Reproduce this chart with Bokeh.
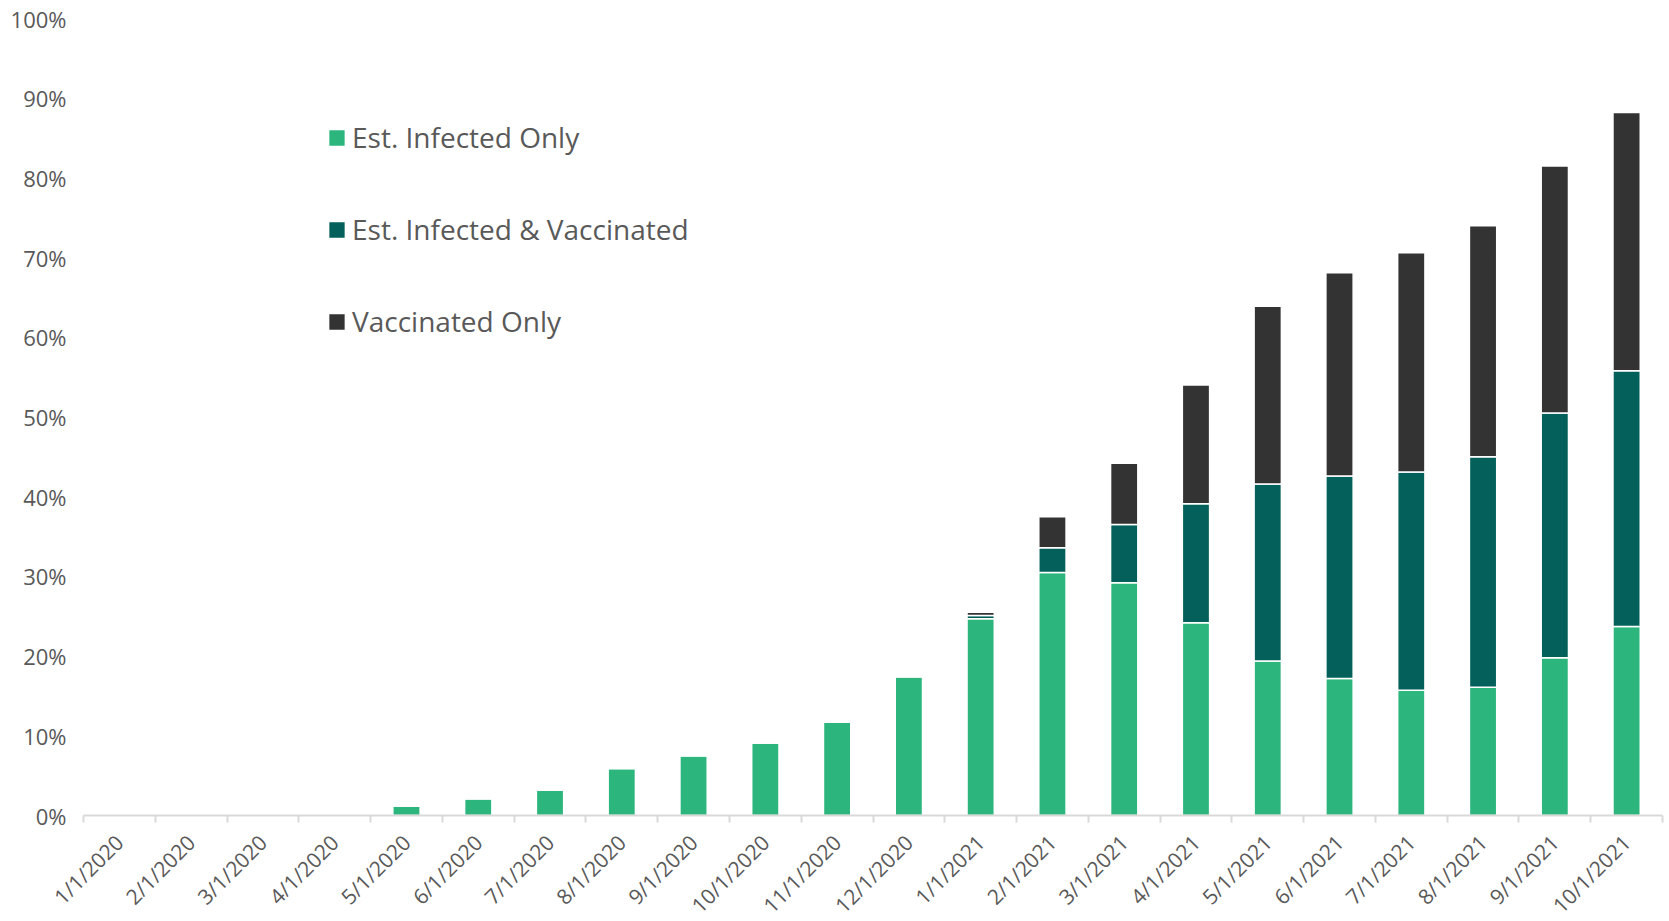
from bokeh.plotting import figure
from bokeh.models import (ColumnDataSource, FixedTicker, PrintfTickFormatter,
                          Legend, LegendItem, Range1d)
from bokeh.embed import file_html
from bokeh.resources import INLINE
import math

# Monthly snapshots
months = ["1/1/2020", "2/1/2020", "3/1/2020", "4/1/2020", "5/1/2020", "6/1/2020",
          "7/1/2020", "8/1/2020", "9/1/2020", "10/1/2020", "11/1/2020", "12/1/2020",
          "1/1/2021", "2/1/2021", "3/1/2021", "4/1/2021", "5/1/2021", "6/1/2021",
          "7/1/2021", "8/1/2021", "9/1/2021", "10/1/2021"]

# Share of population (%)
infected_only = [0, 0, 0, 0, 1.2, 2.1, 3.2, 5.9, 7.5, 9.1, 11.7, 17.4,
                 24.7, 30.5, 29.2, 24.2, 19.4, 17.2, 15.7, 16.1, 19.8, 23.7]
infected_and_vaccinated = [0, 0, 0, 0, 0, 0, 0, 0, 0, 0, 0, 0,
                           0.4, 3.1, 7.3, 14.9, 22.2, 25.4, 27.4, 28.9, 30.7, 32.1]
vaccinated_only = [0, 0, 0, 0, 0, 0, 0, 0, 0, 0, 0, 0,
                   0.4, 3.9, 7.7, 14.9, 22.3, 25.5, 27.5, 29.0, 31.0, 32.4]

y_ticks = [0, 10, 20, 30, 40, 50, 60, 70, 80, 90, 100]

series = ["infected_only", "infected_and_vaccinated", "vaccinated_only"]
labels = ["Est. Infected Only", "Est. Infected & Vaccinated", "Vaccinated Only"]
colors = ["#2CB67D", "#03605A", "#333333"]

centers = [i + 0.5 for i in range(len(months))]
source = ColumnDataSource(dict(
    x=centers,
    infected_only=infected_only,
    infected_and_vaccinated=infected_and_vaccinated,
    vaccinated_only=vaccinated_only,
))

FONT = "Open Sans"
TEXT = "#595959"

p = figure(frame_width=1579, frame_height=797, output_backend="svg", toolbar_location=None,
           x_range=Range1d(0, len(months)), y_range=Range1d(0, 100),
           min_border_left=83, min_border_right=7, min_border_top=18,
           min_border_bottom=0, outline_line_color=None)
p.background_fill_color = "white"
p.border_fill_color = "white"

renderers = p.vbar_stack(series, x="x", width=0.38, source=source,
                         fill_color=colors, line_color="white", line_width=1.5)

p.xgrid.visible = False
p.ygrid.visible = False

# Category axis: labels at bar centres, tick marks between categories
xa = p.xaxis[0]
xa.ticker = FixedTicker(ticks=centers, minor_ticks=list(range(len(months) + 1)))
xa.major_label_overrides = {c: m for c, m in zip(centers, months)}
xa.major_label_orientation = math.pi / 4
xa.major_tick_out = 0
xa.major_tick_in = 0
xa.minor_tick_out = 7
xa.minor_tick_in = 0
xa.minor_tick_line_color = "#D9D9D9"
xa.minor_tick_line_width = 2
xa.axis_line_color = "#D9D9D9"
xa.axis_line_width = 2
xa.major_label_text_font = FONT
xa.major_label_text_font_size = "21px"
xa.major_label_text_color = TEXT
xa.major_label_standoff = 16

ya = p.yaxis[0]
ya.ticker = FixedTicker(ticks=y_ticks)
ya.formatter = PrintfTickFormatter(format="%d%%")
ya.axis_line_color = None
ya.major_tick_line_color = None
ya.minor_tick_line_color = None
ya.major_label_text_font = FONT
ya.major_label_text_font_size = "22px"
ya.major_label_text_color = TEXT
ya.major_label_standoff = 11

legend = Legend(items=[LegendItem(label=l, renderers=[r]) for l, r in zip(labels, renderers)],
                location=(243, 475), orientation="vertical",
                glyph_width=21, glyph_height=21, label_height=30,
                spacing=54, padding=0, margin=0, label_standoff=5,
                border_line_color=None, background_fill_alpha=0,
                label_text_font=FONT, label_text_font_size="28px",
                label_text_color=TEXT)
p.add_layout(legend, "center")

open("out.html", "w").write(file_html(p, INLINE))
